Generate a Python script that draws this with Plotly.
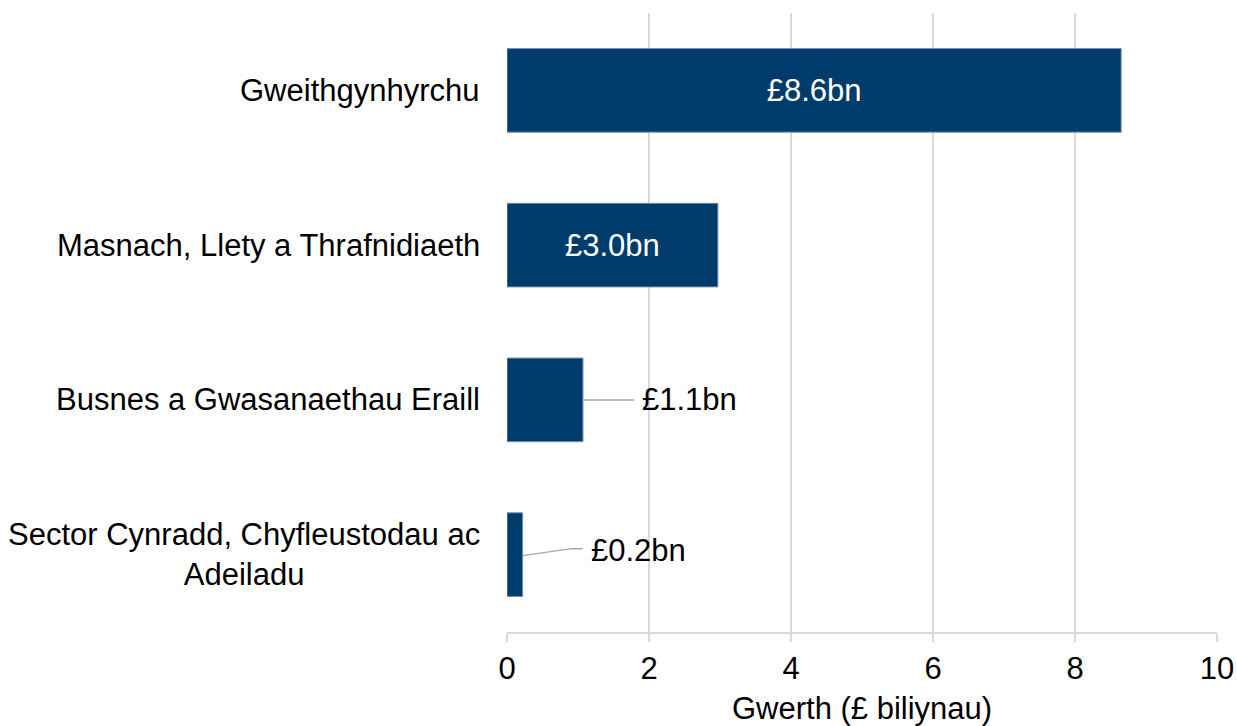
import plotly.graph_objects as go

# ---- data ----
categories = [
    "Gweithgynhyrchu",
    "Masnach, Llety a Thrafnidiaeth",
    "Busnes a Gwasanaethau Eraill",
    "Sector Cynradd, Chyfleustodau ac<br>Adeiladu",
]
values = [8.65, 2.97, 1.07, 0.22]
value_labels = ["£8.6bn", "£3.0bn", "£1.1bn", "£0.2bn"]
x_ticks = [0, 2, 4, 6, 8, 10]
x_title = "Gwerth (£ biliynau)"

# ---- style ----
BAR = "#003C6B"
GRID = "#D9D9D9"
LEADER = "#A6A6A6"
FONT = "Liberation Sans, Arial, sans-serif"
FS = 31
W, H = 1237, 726
ML, MR, MT, MB = 507, 20, 13, 94
PX_X = (W - ML - MR) / 10.0          # pixels per x unit
PX_Y = (H - MT - MB) / len(categories)  # pixels per category

pos = list(range(len(categories)))
inside = [v > 2 for v in values]

fig = go.Figure(
    go.Bar(
        x=values,
        y=pos,
        orientation="h",
        width=0.54,
        marker=dict(color=BAR, line=dict(color="#6F8FAD", width=1)),
        text=[l if i else "" for l, i in zip(value_labels, inside)],
        textposition="inside",
        insidetextanchor="middle",
        textfont=dict(color="white", size=FS, family=FONT),
        hoverinfo="skip",
        cliponaxis=False,
    )
)

shapes = []
annotations = []

# leader lines + outside labels
leader_specs = {
    # index: (points after bar end in px, label dx px, label dy px)
    2: ([(0, 0), (51, 0)], 57, 0),
    3: ([(0, 1), (49, -6), (60, -6)], 66, -4.5),
}
for i, (pts, lx, ly) in leader_specs.items():
    v = values[i]
    path = ""
    for k, (dx, dy) in enumerate(pts):
        xx = v + dx / PX_X
        yy = i + dy / PX_Y
        path += ("M" if k == 0 else " L") + f"{xx},{yy}"
    shapes.append(
        dict(type="path", path=path, xref="x", yref="y",
             line=dict(color=LEADER, width=1.5))
    )
    annotations.append(
        dict(x=v, y=i, xref="x", yref="y", xanchor="left", yanchor="middle",
             xshift=lx, yshift=-ly, text=value_labels[i], showarrow=False,
             font=dict(size=FS, family=FONT, color="black"))
    )

# category labels (centered multi-line)
for i, c in enumerate(categories):
    annotations.append(
        dict(x=0, y=i, xref="paper", yref="y", xanchor="right", yanchor="middle",
             xshift=-25, text=c, showarrow=False, align="center",
             font=dict(size=FS, family=FONT, color="black"))
    )

# x-axis title
annotations.append(
    dict(x=0.5, y=0, xref="paper", yref="paper", xanchor="center", yanchor="middle",
         yshift=-76, text=x_title, showarrow=False,
         font=dict(size=FS, family=FONT, color="black"))
)

fig.update_layout(
    width=W,
    height=H,
    margin=dict(l=ML, r=MR, t=MT, b=MB, autoexpand=False),
    paper_bgcolor="white",
    plot_bgcolor="white",
    showlegend=False,
    font=dict(family=FONT, size=FS, color="black"),
    shapes=shapes,
    annotations=annotations,
    xaxis=dict(
        range=[0, 10],
        tickvals=x_ticks,
        ticktext=[str(t) for t in x_ticks],
        showgrid=True,
        gridcolor=GRID,
        gridwidth=1.5,
        zeroline=False,
        showline=True,
        linecolor=GRID,
        linewidth=1.5,
        ticks="outside",
        ticklen=8,
        tickcolor=GRID,
        tickwidth=1.5,
        tickfont=dict(size=FS, family=FONT, color="black"),
        automargin=False,
        fixedrange=True,
    ),
    yaxis=dict(
        range=[len(categories) - 0.5, -0.5],
        showticklabels=False,
        showgrid=False,
        zeroline=False,
        showline=False,
        automargin=False,
        fixedrange=True,
    ),
)

fig.write_html(
    "out.html",
    config={"displayModeBar": False},
    post_script="document.body.style.margin='0';document.body.style.overflow='hidden';",
)
